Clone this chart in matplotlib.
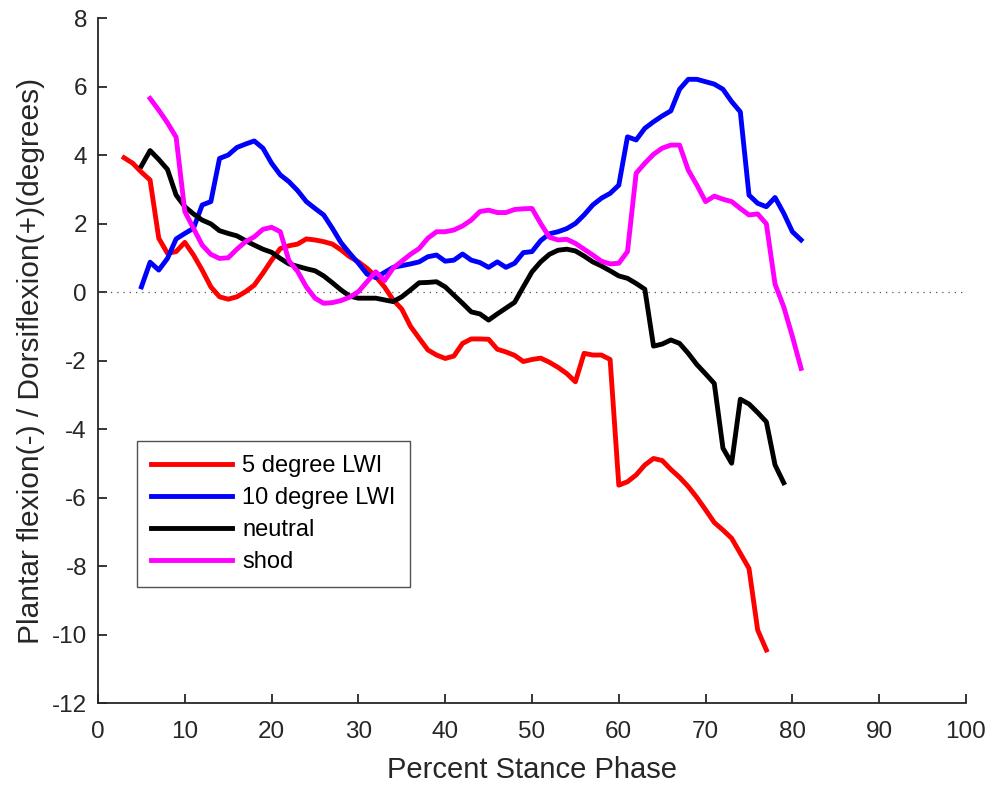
import matplotlib
matplotlib.use("Agg")
import matplotlib.pyplot as plt
import numpy as np

plt.rcParams["font.family"] = ["Liberation Sans", "DejaVu Sans"]
plt.rcParams["axes.unicode_minus"] = False

# ankle angle (degrees) sampled at each percent of stance
lwi5_x = np.arange(3, 78)
lwi5_y = [3.92, 3.76, 3.50, 3.27, 1.57, 1.13, 1.18, 1.45, 1.08, 0.64,
          0.15, -0.14, -0.21, -0.14, 0.01, 0.20, 0.55, 0.93, 1.27, 1.35,
          1.40, 1.55, 1.52, 1.47, 1.40, 1.23, 1.03, 0.88, 0.69, 0.45,
          0.15, -0.23, -0.50, -1.00, -1.35, -1.69, -1.84, -1.94, -1.87, -1.50,
          -1.37, -1.37, -1.38, -1.67, -1.75, -1.85, -2.03, -1.97, -1.93, -2.05,
          -2.20, -2.38, -2.62, -1.79, -1.84, -1.84, -1.97, -5.64, -5.54, -5.34,
          -5.05, -4.86, -4.92, -5.18, -5.41, -5.68, -6.00, -6.36, -6.73, -6.95,
          -7.19, -7.63, -8.07, -9.87, -10.45]

lwi10_x = np.arange(5, 82)
lwi10_y = [0.15, 0.87, 0.64, 0.98, 1.55, 1.71, 1.86, 2.54, 2.64, 3.90,
           4.00, 4.22, 4.32, 4.41, 4.20, 3.76, 3.42, 3.22, 2.96, 2.64,
           2.44, 2.25, 1.86, 1.44, 1.13, 0.84, 0.52, 0.42, 0.57, 0.72,
           0.77, 0.82, 0.88, 1.03, 1.08, 0.90, 0.93, 1.11, 0.93, 0.86,
           0.72, 0.88, 0.72, 0.84, 1.15, 1.18, 1.50, 1.70, 1.76, 1.85,
           2.00, 2.25, 2.54, 2.74, 2.88, 3.12, 4.53, 4.44, 4.78, 4.97,
           5.14, 5.29, 5.92, 6.21, 6.21, 6.14, 6.07, 5.92, 5.56, 5.26,
           2.83, 2.59, 2.49, 2.76, 2.30, 1.76, 1.52]

neutral_x = np.arange(5, 80)
neutral_y = [3.68, 4.13, 3.87, 3.58, 2.83, 2.49, 2.28, 2.10, 1.99, 1.79,
             1.71, 1.64, 1.50, 1.37, 1.25, 1.16, 0.98, 0.82, 0.75, 0.68,
             0.62, 0.47, 0.27, 0.06, -0.12, -0.18, -0.18, -0.18, -0.23, -0.28,
             -0.14, 0.06, 0.27, 0.28, 0.30, 0.15, -0.09, -0.33, -0.58, -0.64,
             -0.82, -0.64, -0.47, -0.30, 0.15, 0.59, 0.88, 1.10, 1.22, 1.25,
             1.20, 1.05, 0.88, 0.76, 0.62, 0.47, 0.40, 0.25, 0.08, -1.58,
             -1.52, -1.40, -1.50, -1.79, -2.12, -2.39, -2.67, -4.56, -5.00, -3.13,
             -3.27, -3.52, -3.79, -5.05, -5.57]

shod_x = np.arange(6, 82)
shod_y = [5.65, 5.31, 4.94, 4.52, 2.35, 1.86, 1.37, 1.10, 0.98, 1.00,
          1.25, 1.47, 1.61, 1.83, 1.89, 1.76, 0.91, 0.60, 0.15, -0.18,
          -0.33, -0.31, -0.25, -0.15, 0.01, 0.30, 0.59, 0.33, 0.70, 0.90,
          1.10, 1.27, 1.57, 1.76, 1.76, 1.81, 1.93, 2.10, 2.35, 2.39,
          2.32, 2.32, 2.41, 2.43, 2.44, 2.00, 1.60, 1.52, 1.54, 1.42,
          1.25, 1.08, 0.90, 0.82, 0.84, 1.18, 3.47, 3.76, 4.02, 4.20,
          4.29, 4.29, 3.56, 3.12, 2.64, 2.80, 2.71, 2.64, 2.44, 2.25,
          2.28, 1.99, 0.23, -0.43, -1.30, -2.23]

axis_col = "#262626"
lw = 3.5

fig = plt.figure(figsize=(9.93, 7.90), dpi=100)
ax = fig.add_axes([0.0987, 0.1101, 0.8741, 0.8671])

ax.plot([0, 100], [0, 0], linestyle=(0, (1, 4)), color="#555555", linewidth=0.9)
ax.plot(lwi5_x, lwi5_y, color="#ff0000", linewidth=lw, label="5 degree LWI")
ax.plot(lwi10_x, lwi10_y, color="#0000ff", linewidth=lw, label="10 degree LWI")
ax.plot(neutral_x, neutral_y, color="#000000", linewidth=lw, label="neutral")
ax.plot(shod_x, shod_y, color="#ff00ff", linewidth=lw, label="shod")

ax.set_xlim(0, 100)
ax.set_ylim(-12, 8)
ax.set_xticks(np.arange(0, 101, 10))
ax.set_yticks(np.arange(-12, 9, 2))

for side in ["top", "right"]:
    ax.spines[side].set_visible(False)
for side in ["left", "bottom"]:
    ax.spines[side].set_color(axis_col)
    ax.spines[side].set_linewidth(1.3)
ax.tick_params(direction="in", length=6.5, width=1.3, colors=axis_col,
               labelsize=17.5)
ax.tick_params(axis="x", pad=13)
ax.tick_params(axis="y", pad=8)

ax.set_xlabel("Percent Stance Phase", fontsize=21, color=axis_col, labelpad=9)
ax.set_ylabel("Plantar flexion(-) / Dorsiflexion(+)(degrees)", fontsize=21.5,
              color=axis_col, labelpad=5)

leg = ax.legend(loc="lower left", bbox_to_anchor=(0.045, 0.169), fontsize=17,
                frameon=True, fancybox=False, handlelength=3.4, borderpad=0.6,
                labelspacing=0.42, handletextpad=0.45, borderaxespad=0)
leg.get_frame().set_edgecolor(axis_col)
leg.get_frame().set_linewidth(1.0)

fig.savefig("out.png", dpi=100)
